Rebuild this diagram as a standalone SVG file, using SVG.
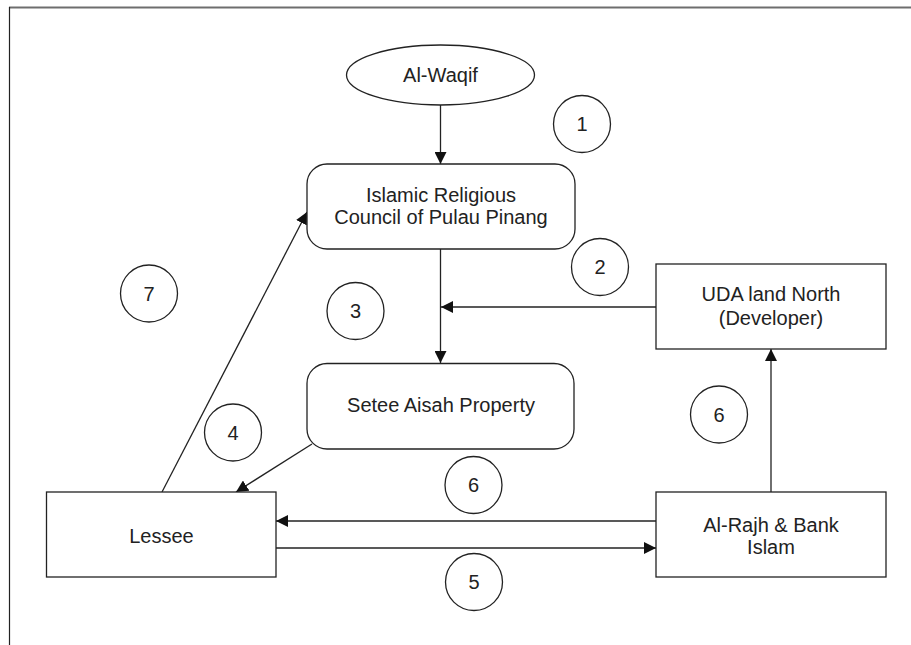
<svg xmlns="http://www.w3.org/2000/svg" width="911" height="645" viewBox="0 0 911 645">
<style>
.shape{fill:#fff;stroke:#222;stroke-width:1.3}
.conn{stroke:#222;stroke-width:1.3;fill:none}
.lbl{font-family:"Liberation Sans",Arial,sans-serif;font-size:20px;fill:#222;text-anchor:middle}
</style>
<defs>
<marker id="ah" markerUnits="userSpaceOnUse" markerWidth="13" markerHeight="12" refX="12" refY="6" orient="auto">
<path d="M0,0 L12,6 L0,12 z" fill="#111"/>
</marker>
</defs>
<rect width="911" height="645" fill="#fff"/>
<g id="frame">
<line x1="9" y1="7.5" x2="911" y2="7.5" stroke="#6e6e6e" stroke-width="2"/>
<line x1="9.5" y1="7" x2="9.5" y2="645" stroke="#222" stroke-width="1.2"/>
</g>
<g id="connectors">
<line class="conn" x1="440.5" y1="105" x2="440.5" y2="164" marker-end="url(#ah)"/>
<line class="conn" x1="440.5" y1="249" x2="440.5" y2="363" marker-end="url(#ah)"/>
<line class="conn" x1="656" y1="307" x2="441" y2="307" marker-end="url(#ah)"/>
<line class="conn" x1="771" y1="492" x2="771" y2="349" marker-end="url(#ah)"/>
<line class="conn" x1="656" y1="521" x2="276" y2="521" marker-end="url(#ah)"/>
<line class="conn" x1="276" y1="548" x2="656" y2="548" marker-end="url(#ah)"/>
<line class="conn" x1="162" y1="492" x2="307" y2="212" marker-end="url(#ah)"/>
<line class="conn" x1="312" y1="444" x2="236" y2="492" marker-end="url(#ah)"/>
</g>
<g id="al-waqif">
<ellipse class="shape" cx="440.5" cy="75" rx="94" ry="30"/>
<text class="lbl" x="440.5" y="82">Al-Waqif</text>
</g>
<g id="islamic-council">
<rect class="shape" x="307" y="164" width="268" height="85" rx="20"/>
<text class="lbl" x="441" y="201.5">Islamic Religious</text>
<text class="lbl" x="441" y="224">Council of Pulau Pinang</text>
</g>
<g id="uda">
<rect class="shape" x="656" y="264" width="230" height="85"/>
<text class="lbl" x="771" y="301">UDA land North</text>
<text class="lbl" x="771" y="325">(Developer)</text>
</g>
<g id="setee">
<rect class="shape" x="307" y="363.5" width="267" height="85.5" rx="20"/>
<text class="lbl" x="441" y="412">Setee Aisah Property</text>
</g>
<g id="lessee">
<rect class="shape" x="46.5" y="492" width="229.5" height="85"/>
<text class="lbl" x="161.5" y="542.5">Lessee</text>
</g>
<g id="alrajh">
<rect class="shape" x="656" y="492" width="230" height="85"/>
<text class="lbl" x="771" y="531.5">Al-Rajh &amp; Bank</text>
<text class="lbl" x="771" y="553.5">Islam</text>
</g>
<g id="step-1"><circle class="shape" cx="582" cy="124" r="28.5"/><text class="lbl" x="582" y="131">1</text></g>
<g id="step-2"><circle class="shape" cx="600" cy="267" r="28.5"/><text class="lbl" x="600" y="274">2</text></g>
<g id="step-3"><circle class="shape" cx="355.5" cy="311" r="28.5"/><text class="lbl" x="355.5" y="318">3</text></g>
<g id="step-4"><circle class="shape" cx="233" cy="432.5" r="28.5"/><text class="lbl" x="233" y="439.5">4</text></g>
<g id="step-5"><circle class="shape" cx="474" cy="582" r="28.5"/><text class="lbl" x="474" y="589">5</text></g>
<g id="step-6a"><circle class="shape" cx="473.5" cy="485" r="28.5"/><text class="lbl" x="473.5" y="492">6</text></g>
<g id="step-6b"><circle class="shape" cx="719" cy="414.5" r="28.5"/><text class="lbl" x="719" y="421.5">6</text></g>
<g id="step-7"><circle class="shape" cx="149" cy="293.5" r="28.5"/><text class="lbl" x="149" y="300.5">7</text></g>
</svg>
